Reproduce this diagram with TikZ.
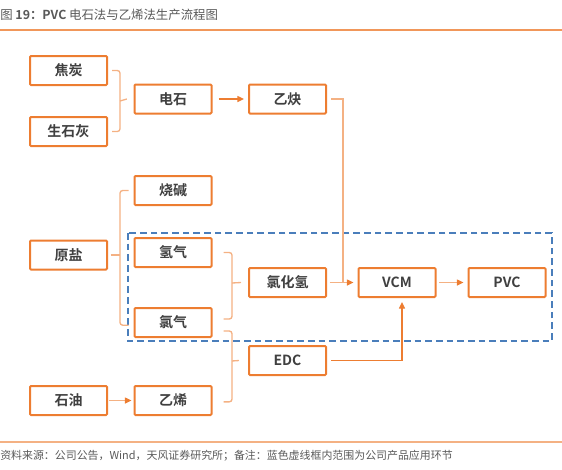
\documentclass[tikz,border=0pt]{standalone}
\usepackage{fontspec}
\setmainfont{Noto Sans CJK SC}[BoldFont={Noto Sans CJK SC Bold}]
\usepackage{xcolor}
\usetikzlibrary{arrows.meta}
\definecolor{boxorange}{HTML}{ED7D31}
\definecolor{lineorange}{HTML}{F4B183}
\definecolor{dashblue}{HTML}{4A7EBB}
\definecolor{txtgray}{HTML}{404040}
\definecolor{notegray}{HTML}{595959}

\begin{document}
\begin{tikzpicture}[x=0.75pt,y=-0.75pt,
 proc/.style={draw=boxorange,line width=1.5pt,rounded corners=0.8pt,minimum width=57.75pt,minimum height=21.75pt,inner sep=0pt,text=txtgray,font=\fontsize{10.5}{12}\selectfont\bfseries},
 brace/.style={lineorange,line width=1pt,rounded corners=2pt},
 arr/.style={boxorange,line width=1pt,-{Triangle[length=5pt,width=4.5pt]}},
 larr/.style={lineorange,line width=1pt,-{Triangle[length=5pt,width=4.5pt,color=boxorange]}}]
\useasboundingbox (0,0) rectangle (562,469);
\node[anchor=west,inner sep=0pt,text=notegray,font=\fontsize{9.3}{11}\selectfont] (title) at (0,15) {图 \textbf{19：PVC} 电石法与乙烯法生产流程图};
\draw[boxorange!80,line width=1.2pt] (0,30) -- (562,30);
\draw[dashblue,line width=1.5pt,dash pattern=on 5pt off 3pt] (128,233) rectangle (552,341);
\node[proc] (jt) at (68.5,70.5) {焦炭};
\node[proc] (sshh) at (68.5,131.5) {生石灰};
\node[proc] (ds) at (173,99) {电石};
\node[proc] (yq) at (287.5,99) {乙炔};
\node[proc] (sj) at (173,190.5) {烧碱};
\node[proc] (yy) at (68.5,255) {原盐};
\node[proc] (qq) at (173,252.5) {氢气};
\node[proc] (lq) at (173,322.5) {氯气};
\node[proc] (hcl) at (287.5,282.5) {氯化氢};
\node[proc] (vcm) at (397,282.5) {VCM};
\node[proc] (pvc) at (507,282.5) {PVC};
\node[proc] (edc) at (287.5,360.5) {EDC};
\node[proc] (sy) at (68.5,400.5) {石油};
\node[proc] (yx) at (173,400.5) {乙烯};
\coordinate (b1) at (120,101);
\coordinate (b2) at (120,255);
\coordinate (b3) at (232,283);
\coordinate (b4) at (232,361);
\coordinate (jn) at (343,282.5);
\draw[brace] ([xshift=3pt]jt.east) -| (b1) |- ([xshift=3pt]sshh.east);
\draw[brace] (b1) -- ([xshift=-5pt]ds.west);
\draw[brace] ([xshift=-3.75pt]sj.west) -| (b2) |- ([xshift=-3.75pt,yshift=-2pt]lq.west);
\draw[brace] ([xshift=2pt]yy.east) -- (b2);
\draw[brace] ([xshift=8.25pt]qq.east) -| (b3) |- ([xshift=8.25pt,yshift=2.6pt]lq.east);
\draw[brace] (b3) -- ([xshift=-5.25pt]hcl.west);
\draw[brace] ([xshift=8.25pt,yshift=-6.4pt]lq.east) -| (b4) |- ([xshift=8.25pt,yshift=-1pt]yx.east);
\draw[brace] (b4) -- ([xshift=-6.75pt]edc.west);
\draw[arr] ([xshift=4.5pt]ds.east) -- ([xshift=-3pt]yq.west);
\draw[lineorange,line width=1pt] ([xshift=3pt]yq.east) -| (jn);
\draw[larr] ([xshift=2pt]hcl.east) -- ([xshift=-3pt]vcm.west);
\draw[larr] ([xshift=2pt]vcm.east) -- ([xshift=-3pt]pvc.west);
\draw[arr] ([xshift=3pt]edc.east) -| ([xshift=3.75pt,yshift=-3pt]vcm.south);
\draw[larr] ([xshift=1pt]sy.east) -- ([xshift=-1.5pt]yx.west);
\draw[lineorange,line width=1.5pt] (0,442) -- (562,442);
\node[anchor=west,inner sep=0pt,text=notegray,font=\fontsize{8.2}{10}\selectfont] (note) at (0,456) {资料来源：公司公告，Wind，天风证券研究所；备注：蓝色虚线框内范围为公司产品应用环节};
\end{tikzpicture}
\end{document}
